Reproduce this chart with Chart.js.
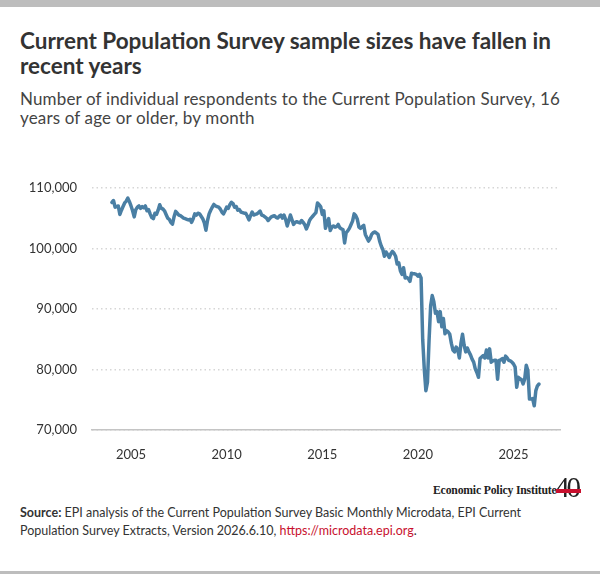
<!DOCTYPE html>
<html lang="en">
<head>
    <meta charset="UTF-8">
    <meta name="viewport" content="width=device-width, initial-scale=1.0">
    <title>CPS sample sizes</title>
    <script src="https://cdn.jsdelivr.net/npm/chart.js"></script>

    <style>
        body {
            margin: 0;
            background: #fff;
            font-family: Lato, "Open Sans", sans-serif;
            color: #333;
        }
        #wrap {
            position: relative;
            width: 600px;
            height: 574px;
            overflow: hidden;
        }
        #topBar, #bottomBar {
            position: absolute;
            left: 0;
            width: 600px;
            background: #bdbdbd;
        }
        #topBar { top: 0; height: 7px; }
        #bottomBar { top: 571px; height: 3px; }
        h1 {
            position: absolute;
            left: 20px;
            top: 28px;
            margin: 0;
            font-size: 22.5px;
            line-height: 25px;
            font-weight: 700;
            color: #333;
            white-space: nowrap;
        }
        #subtitle {
            position: absolute;
            left: 20px;
            top: 89px;
            font-size: 17px;
            line-height: 19px;
            letter-spacing: 0.15px;
            color: #444;
            white-space: nowrap;
        }
        #chartBox {
            position: absolute;
            left: 0;
            top: 165px;
            width: 600px;
            height: 312px;
        }
        #logo {
            position: absolute;
            left: 433px;
            top: 478px;
            white-space: nowrap;
        }
        #logo .name {
            display: inline-block;
            font-family: "Liberation Serif", "DejaVu Serif", serif;
            font-weight: 700;
            font-size: 13px;
            color: #222;
            transform: scaleX(0.9);
            transform-origin: left center;
            letter-spacing: -0.2px;
        }
        #logo .forty {
            position: absolute;
            left: 122px;
            top: -7px;
            font-family: "Liberation Serif", serif;
            font-size: 29px;
            color: #222;
            letter-spacing: -3px;
        }
        #logo .band {
            position: absolute;
            left: 123px;
            top: 11px;
            width: 25px;
            height: 4px;
            background: #c8102e;
        }
        #source {
            position: absolute;
            left: 20px;
            top: 504px;
            font-size: 12.5px;
            line-height: 18px;
            color: #333;
            white-space: nowrap;
        }
        #source a { color: #c8102e; text-decoration: none; }
    </style>
</head>
<body>
<div id="wrap">
    <div id="topBar"></div>
    <h1>Current Population Survey sample sizes have fallen in<br>recent years</h1>
    <div id="subtitle">Number of individual respondents to the Current Population Survey, 16<br>years of age or older, by month</div>
    <div id="chartBox">
        <canvas id="cpsChart" width="600" height="312"></canvas>
    </div>
    <div id="logo"><span class="name">Economic Policy Institute</span><span class="forty">40</span><span class="band"></span></div>
    <div id="source"><b>Source:</b> EPI analysis of the Current Population Survey Basic Monthly Microdata, EPI Current<br>Population Survey Extracts, Version 2026.6.10, <a href="#">https://microdata.epi.org</a>.</div>
    <div id="bottomBar"></div>
</div>

<script>
    // Monthly series starts January 2004
    const startYear = 2004;

    // Respondents age 16+, one value per month
    const respondents = [
        107600, 107900, 106800, 106900, 107000, 105600, 106300, 106900, 107500, 107800, 108300, 107700, // 2004
        107000, 106200, 105200, 106400, 106800, 107000, 106600, 106900, 106700, 107000, 106200, 106400, // 2005
        105700, 105100, 104900, 105800, 105600, 106300, 107200, 106600, 106500, 106200, 105600, 105000, // 2006
        104800, 104300, 104000, 105200, 106100, 105800, 105500, 105400, 105200, 105000, 104900, 104800, // 2007
        104700, 104800, 104300, 104900, 105700, 105500, 105800, 105700, 105300, 104900, 104200, 103000, // 2008
        104600, 105700, 106300, 106800, 107250, 107000, 106900, 106800, 106500, 106000, 105700, 106200, // 2009
        106800, 106600, 107200, 107600, 107400, 106800, 106900, 106300, 106400, 106000, 105900, 105800, // 2010
        105800, 105300, 104700, 105400, 106000, 105500, 105600, 105700, 105900, 106150, 105500, 105400, // 2011
        105200, 105000, 104600, 104900, 105200, 105300, 105400, 105100, 105000, 105300, 105500, 105000, // 2012
        105500, 104800, 103700, 104600, 105500, 104700, 103950, 104300, 104400, 104300, 104200, 104600, // 2013
        104300, 103900, 103200, 103800, 104600, 105000, 105300, 105600, 105900, 107500, 107200, 106900, // 2014
        105600, 106200, 103300, 104200, 104900, 102950, 103500, 103700, 103500, 103600, 103950, 103400, // 2015
        103200, 103100, 100900, 102600, 102900, 103300, 103900, 104500, 105700, 105400, 104800, 103500, // 2016
        103300, 103600, 103800, 102300, 101750, 101200, 101600, 102300, 102600, 102700, 102500, 102300, // 2017
        101200, 100400, 99800, 98700, 99400, 99000, 98500, 99100, 99500, 99200, 98700, 97400,           // 2018
        97600, 96300, 95700, 96800, 95100, 95200, 95000, 94550, 95900, 95800, 95800, 95700,             // 2019
        95400, 95700, 95100, 85000, 80100, 76500, 77900, 84800, 90500, 92200, 91200, 89300,             // 2020
        89550, 87900, 89550, 87050, 88400, 85900, 86400, 86200, 85800, 84300, 83200, 82900,             // 2021
        83700, 83300, 81900, 84300, 85800, 84000, 82900, 83550, 82900, 82400, 81700, 81200,             // 2022
        80100, 79500, 78700, 81800, 82050, 82300, 81900, 83200, 81900, 83400, 81200, 81400,             // 2023
        81500, 81500, 78400, 81500, 81600, 81800, 81200, 82200, 81900, 81500, 81400, 81200,             // 2024
        80900, 80400, 77050, 78700, 78500, 78300, 77600, 78400, 80700, 79800, 75100, 75100,             // 2025
        75200, 74000, 76500, 77300, 77600                                                               // 2026
    ];

    const xTickYears = [2005, 2010, 2015, 2020, 2025];
    const yTickValues = [70000, 80000, 90000, 100000, 110000];

    // month index -> fractional year for the linear x axis
    const points = respondents.map((v, i) => ({ x: startYear + i / 12, y: v }));

    const ctx = document.getElementById('cpsChart').getContext('2d');
    const tickFont = { family: 'Lato, "Open Sans", sans-serif', size: 13 };

    new Chart(ctx, {
        type: 'line',
        data: {
            datasets: [{
                label: 'Respondents',
                data: points,
                borderColor: '#4a7fa4',
                borderWidth: 3.5,
                pointRadius: 0,
                tension: 0,
                borderJoinStyle: 'round',
                borderCapStyle: 'round',
                fill: false
            }]
        },
        options: {
            responsive: false,
            animation: false,
            layout: { padding: { top: 10, right: 40, left: 0, bottom: 0 } },
            plugins: {
                legend: { display: false },
                tooltip: { enabled: false }
            },
            scales: {
                x: {
                    type: 'linear',
                    min: 2002.96,
                    max: 2027.43,
                    afterBuildTicks: (scale) => {
                        scale.ticks = xTickYears.map(v => ({ value: v }));
                    },
                    afterFit: (scale) => { scale.height = 47; },
                    grid: { display: false },
                    border: { display: true, color: '#c4c4c4', width: 1.5 },
                    ticks: {
                        color: '#333',
                        font: tickFont,
                        padding: 9,
                        maxRotation: 0,
                        callback: (v) => String(v)
                    }
                },
                y: {
                    min: 70000,
                    max: 110000,
                    afterBuildTicks: (scale) => {
                        scale.ticks = yTickValues.map(v => ({ value: v }));
                    },
                    afterFit: (scale) => { scale.width = 92; },
                    grid: {
                        color: '#d6d6d6',
                        lineWidth: 1.5,
                        drawTicks: false
                    },
                    border: { display: false, dash: [1.5, 3] },
                    ticks: {
                        color: '#333',
                        font: tickFont,
                        padding: 15,
                        callback: (v) => v.toLocaleString('en-US')
                    }
                }
            }
        }
    });
</script>
</body>
</html>
